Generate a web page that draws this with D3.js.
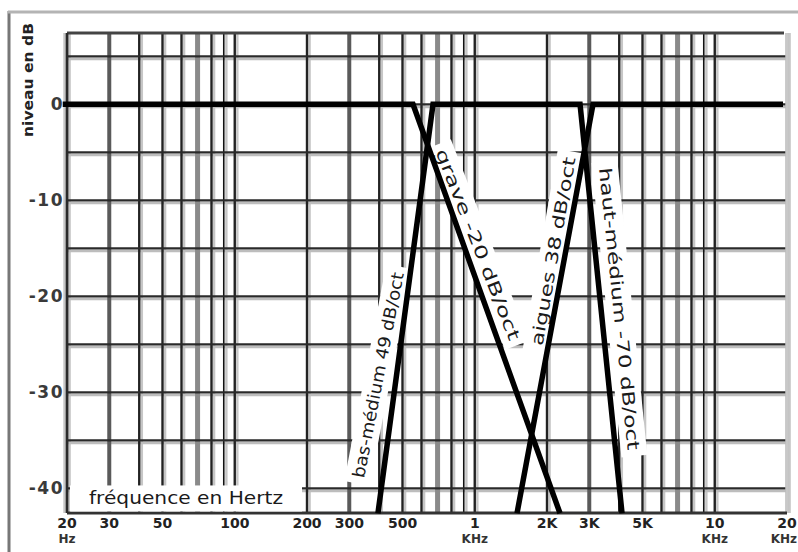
<!DOCTYPE html>
<html>
<head>
<meta charset="utf-8">
<script src="https://cdn.jsdelivr.net/npm/d3@7"></script>
<style>
  body { margin: 0; background: #fff; }
  svg { display: block; font-family: "DejaVu Sans", sans-serif; }
</style>
</head>
<body>
<div id="chart"></div>
<script>
// values
const gridDb = [5, 0, -5, -10, -15, -20, -25, -30, -35, -40];
const dbTicks = [0, -10, -20, -30, -40];
const freqTicks = [20, 30, 50, 100, 200, 300, 500, 1000, 2000, 3000, 5000, 10000, 20000];
const freqTickLabels = ["20", "30", "50", "100", "200", "300", "500", "1", "2K", "3K", "5K", "10", "20"];
const freqUnitLabels = ["Hz", "", "", "", "", "", "", "KHz", "", "", "", "KHz", "KHz"];

// filter asymptotes (Hz, dB)
const graveFreq = [19.2, 553, 2266];
const graveDb = [0, 0, -42.6];
const mediumFreq = [395, 670, 2746, 4108];
const mediumDb = [-42.6, 0, 0, -42.6];
const aiguesFreq = [1500, 3110, 20000];
const aiguesDb = [-42.6, 0, 0];

const slopeLabels = ["bas-médium 49 dB/oct", "grave -20 dB/oct", "aigues 38 dB/oct", "haut-médium -70 dB/oct"];

const W = 798, H = 552;
const margin = { top: 33, right: 11, bottom: 39, left: 67 };
const width = W - margin.left - margin.right;
const height = H - margin.top - margin.bottom;

const svg = d3.select("#chart")
  .append("svg")
  .attr("width", W)
  .attr("height", H);

// outer frame (only left and top show)
svg.append("line").attr("x1", 9).attr("x2", 9).attr("y1", 11).attr("y2", H)
  .attr("stroke", "#777").attr("stroke-width", 3);
svg.append("line").attr("x1", 8).attr("x2", W).attr("y1", 12).attr("y2", 12)
  .attr("stroke", "#b4b4b4").attr("stroke-width", 3);

const chart = svg.append("g")
  .attr("transform", `translate(${margin.left},${margin.top})`);

const x = d3.scaleLog().domain([20, 20000]).range([0, width]);
const y = d3.scaleLinear().domain([7.43, -42.57]).range([0, height]);

// grid
const mantissa = t => Math.round(t / Math.pow(10, Math.floor(Math.log10(t) + 1e-9)));
const vStyle = m => m === 3 ? { c: "#5a5a5a", w: 4 } : m === 7 ? { c: "#8a8a8a", w: 5 } : m === 9 ? { c: "#111", w: 1.6 } : { c: "#222", w: 2.4 };
const gridFreqs = x.ticks();

const grid = chart.append("g");
grid.selectAll(".vshadow")
  .data(gridFreqs.filter(t => mantissa(t) !== 3 && mantissa(t) !== 7))
  .enter().append("line")
  .attr("x1", d => x(d) + 2.6).attr("x2", d => x(d) + 2.6)
  .attr("y1", 0).attr("y2", height)
  .attr("stroke", "#c6c6c6").attr("stroke-width", 2.4);
grid.selectAll(".hshadow")
  .data(gridDb)
  .enter().append("line")
  .attr("x1", 0).attr("x2", width)
  .attr("y1", d => y(d) + 2.6).attr("y2", d => y(d) + 2.6)
  .attr("stroke", "#bdbdbd").attr("stroke-width", 2.4);
grid.selectAll(".vline")
  .data(gridFreqs)
  .enter().append("line")
  .attr("x1", d => x(d)).attr("x2", d => x(d))
  .attr("y1", 0).attr("y2", height)
  .attr("stroke", d => vStyle(mantissa(d)).c)
  .attr("stroke-width", d => vStyle(mantissa(d)).w);
grid.selectAll(".hline")
  .data(gridDb)
  .enter().append("line")
  .attr("x1", 0).attr("x2", width)
  .attr("y1", d => y(d)).attr("y2", d => y(d))
  .attr("stroke", "#2a2a2a").attr("stroke-width", 2.4);

// plot frame
chart.append("line").attr("x1", width).attr("x2", width).attr("y1", 0).attr("y2", height)
  .attr("stroke", "#c8c8c8").attr("stroke-width", 3.5);
chart.append("line").attr("x1", 0).attr("x2", width - 3).attr("y1", 0).attr("y2", 0)
  .attr("stroke", "#444").attr("stroke-width", 3);
chart.append("line").attr("x1", 0).attr("x2", width).attr("y1", height).attr("y2", height)
  .attr("stroke", "#333").attr("stroke-width", 3);
chart.append("line").attr("x1", -2.5).attr("x2", -2.5).attr("y1", 0).attr("y2", height)
  .attr("stroke", "#c6c6c6").attr("stroke-width", 2.4);
chart.append("line").attr("x1", 0).attr("x2", 0).attr("y1", 0).attr("y2", height)
  .attr("stroke", "#2a2a2a").attr("stroke-width", 2.6);

// labels on white patches that break the grid
function patchedLabel(g, text, opts) {
  const t = g.append("text")
    .attr("text-anchor", "middle")
    .attr("dy", "0.36em")
    .attr("font-size", opts.size)
    .attr("fill", "#1a1a1a")
    .attr("textLength", opts.length)
    .attr("lengthAdjust", "spacingAndGlyphs")
    .text(text);
  const b = t.node().getBBox();
  g.insert("rect", "text")
    .attr("x", -opts.length / 2 - opts.padX)
    .attr("y", b.y - opts.padY)
    .attr("width", opts.length + 2 * opts.padX)
    .attr("height", b.height + 2 * opts.padY)
    .attr("fill", "#fff");
}

const slopeLayout = [
  { f: 395, db: -28.2, angle: -79, length: 209 },
  { f: 1032, db: -14.6, angle: 68.7, length: 204 },
  { f: 2118, db: -15.3, angle: -80, length: 191 },
  { f: 4010, db: -21.3, angle: 84.2, length: 284 }
];
slopeLabels.forEach((s, i) => {
  const p = slopeLayout[i];
  const g = chart.append("g")
    .attr("transform", `translate(${x(p.f)},${y(p.db)}) rotate(${p.angle})`);
  patchedLabel(g, s, { size: 17, length: p.length, padX: 6, padY: 3 });
});

const freqTitle = chart.append("g")
  .attr("transform", `translate(${x(20) + 119},${y(-40) + 10})`);
patchedLabel(freqTitle, "fréquence en Hertz", { size: 17, length: 194, padX: 19, padY: 3 });

// filter curves
const line = d3.line().x(d => x(d[0])).y(d => y(d[1]));
const curves = [
  d3.zip(graveFreq, graveDb),
  d3.zip(mediumFreq, mediumDb),
  d3.zip(aiguesFreq, aiguesDb)
];
chart.append("clipPath").attr("id", "plotclip")
  .append("rect").attr("x", -6).attr("y", 0).attr("width", width + 2).attr("height", height + 3);
chart.append("g")
  .attr("clip-path", "url(#plotclip)")
  .selectAll("path")
  .data(curves)
  .enter().append("path")
  .attr("d", line)
  .attr("fill", "none")
  .attr("stroke", "#000")
  .attr("stroke-width", 5.5)
  .attr("stroke-linejoin", "miter");

// y tick labels
chart.selectAll(".ytick")
  .data(dbTicks)
  .enter().append("text")
  .attr("x", -3)
  .attr("y", d => y(d))
  .attr("dy", "0.36em")
  .attr("text-anchor", "end")
  .attr("font-size", 17)
  .attr("font-weight", "bold")
  .attr("letter-spacing", 1.5)
  .attr("fill", "#3a3a3a")
  .text(d => String(d));

// x tick labels
const last = freqTicks.length - 1;
const xl = chart.selectAll(".xtick")
  .data(freqTicks)
  .enter().append("g")
  .attr("transform", d => `translate(${x(d)},${height})`);
xl.append("text")
  .attr("y", 15)
  .attr("text-anchor", "middle")
  .attr("font-size", 14)
  .attr("font-weight", "bold")
  .attr("fill", "#222")
  .text((d, i) => freqTickLabels[i]);
xl.append("text")
  .attr("x", (d, i) => i === last ? 10 : 0)
  .attr("y", 30)
  .attr("text-anchor", (d, i) => i === last ? "end" : "middle")
  .attr("font-size", 12)
  .attr("font-weight", "bold")
  .attr("fill", "#333")
  .text((d, i) => freqUnitLabels[i]);

// y axis title
svg.append("text")
  .attr("transform", "translate(28,80) rotate(-90)")
  .attr("text-anchor", "middle")
  .attr("dy", "0.36em")
  .attr("font-size", 14)
  .attr("font-weight", "bold")
  .attr("textLength", 114)
  .attr("lengthAdjust", "spacingAndGlyphs")
  .attr("fill", "#222")
  .text("niveau en dB");
</script>
</body>
</html>
